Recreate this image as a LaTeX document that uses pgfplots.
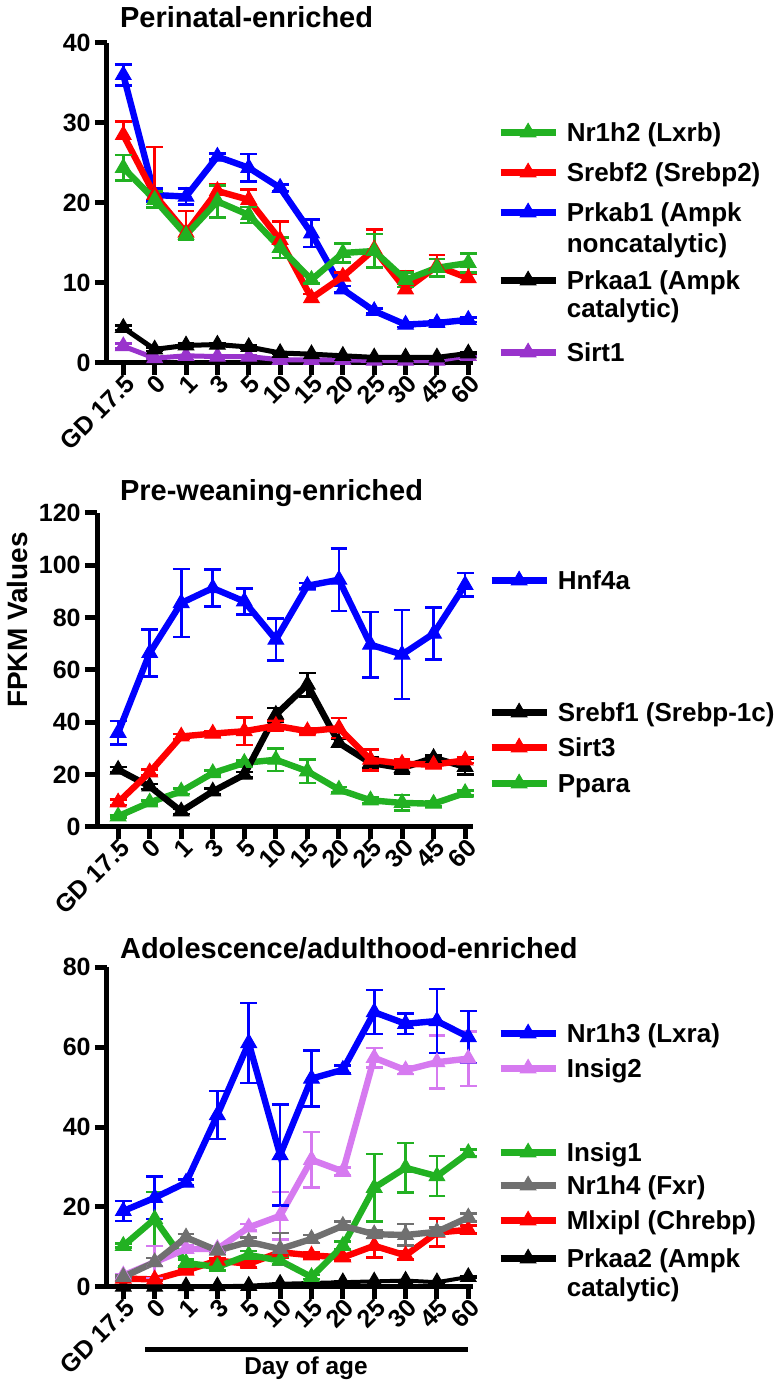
\documentclass[border=0pt]{standalone}
\usepackage{pgfplots}
\pgfplotsset{compat=1.18}
\usepackage{fontspec}
\setmainfont{Liberation Sans}
\definecolor{cblue}{RGB}{0,0,255}
\definecolor{cred}{RGB}{255,0,0}
\definecolor{cgreen}{RGB}{34,177,34}
\definecolor{cpurple}{RGB}{153,51,204}
\definecolor{cviolet}{RGB}{214,122,240}
\definecolor{cgray}{RGB}{112,112,112}
\newcommand{\ls}[1]{\rule{0pt}{10pt}\rule[-#1pt]{0pt}{#1pt}}
\pgfplotsset{
  panel/.style={
    scale only axis, anchor=south west,
    axis lines*=left,
    axis line style={line width=2.5pt},
    tick style={line width=2.5pt, black},
    tick align=outside, major tick length=6pt,
    xtick={0,...,11},
    xticklabels={GD 17.5,0,1,3,5,10,15,20,25,30,45,60},
    ymin=0,
    clip=false,
    /pgf/number format/assume math mode=true,
    tick label style={font=\bfseries\fontsize{12.5}{14}\selectfont},
    xticklabel style={rotate=45, anchor=east, inner sep=1pt, xshift=2pt, yshift=-4pt},
    yticklabel style={inner sep=2pt},
    legend style={draw=none, fill=none, inner sep=0pt, anchor=north west,
       font=\bfseries\fontsize{13}{15}\selectfont,
       nodes={inner sep=0pt, text depth=},
       cells={anchor=base west},
       column sep=4pt, row sep=0pt},
    legend image code/.code={\draw[mark repeat=2,mark phase=2,yshift=4.5pt] plot coordinates {(0pt,0pt)(13.75pt,0pt)(27.5pt,0pt)};},
  },
  leg/.style={line width=3.2pt, mark=triangle*, mark size=4.5pt, mark options={solid, line width=0.5pt, fill=#1, draw=#1}, color=#1},
  ser/.style={line width=3.2pt, mark=triangle*, mark size=4.5pt, mark options={solid, line width=0.5pt, fill=#1, draw=#1}, color=#1,
     error bars/y dir=both, error bars/y explicit,
     error bars/error mark=-,
     error bars/error bar style={line width=1.3pt, color=#1, solid},
     error bars/error mark options={rotate=90, mark size=4.2pt, line width=1.3pt, color=#1}},
}
\begin{document}
\begin{tikzpicture}
\useasboundingbox (0,0) rectangle (391.5pt,699pt);

% ---------------- Panel 1 ----------------
\begin{axis}[panel, at={(53.5pt,517.5pt)}, width=183pt, height=160pt,
  xmin=-0.52, xmax=11.15, ymax=40, ytick={0,10,20,30,40},
  legend style={at={(1.0656,0.7563)}}]
\addplot[forget plot, ser=cpurple, line width=2.5pt] coordinates {(0,2.1) +- (0,0.3) (1,0.6) +- (0,0.1) (2,0.9) +- (0,0.1) (3,0.8) +- (0,0.1) (4,0.8) +- (0,0.1) (5,0.4) +- (0,0.1) (6,0.4) +- (0,0.1) (7,0.4) +- (0,0.1) (8,0.3) +- (0,0.1) (9,0.3) +- (0,0.1) (10,0.3) +- (0,0.1) (11,0.9) +- (0,0.1)};
\addplot[forget plot, ser=black, line width=2.5pt] coordinates {(0,4.4) +- (0,0.3) (1,1.7) +- (0,0.2) (2,2.2) +- (0,0.2) (3,2.3) +- (0,0.2) (4,2.0) +- (0,0.2) (5,1.25) +- (0,0.1) (6,1.1) +- (0,0.1) (7,0.9) +- (0,0.1) (8,0.7) +- (0,0.1) (9,0.7) +- (0,0.1) (10,0.7) +- (0,0.1) (11,1.2) +- (0,0.1)};
\addplot[forget plot, ser=cblue] coordinates {(0,36.0) +- (0,1.3) (1,21.0) +- (0,0.8) (2,20.8) +- (0,1.0) (3,25.8) +- (0,0.4) (4,24.4) +- (0,1.7) (5,21.9) +- (0,0.4) (6,16.2) +- (0,1.7) (7,9.2) +- (0,0.4) (8,6.5) +- (0,0.3) (9,4.8) +- (0,0.3) (10,5.0) +- (0,0.3) (11,5.4) +- (0,0.3)};
\addplot[forget plot, ser=cred, error bars/y dir=plus] coordinates {(0,28.5) +- (0,1.7) (1,21.0) +- (0,6.0) (2,16.3) +- (0,2.7) (3,21.5) +- (0,0.8) (4,20.4) +- (0,1.3) (5,15.4) +- (0,2.3) (6,8.1) +- (0,0.5) (7,10.8) +- (0,0.5) (8,14.2) +- (0,2.5) (9,9.2) +- (0,2.3) (10,12.1) +- (0,1.4) (11,10.6) +- (0,0.5)};
\addplot[forget plot, ser=cgreen] coordinates {(0,24.4) +- (0,1.6) (1,20.4) +- (0,1.0) (2,16.0) +- (0,0.6) (3,20.2) +- (0,2.0) (4,18.5) +- (0,1.0) (5,14.4) +- (0,1.3) (6,10.4) +- (0,0.5) (7,13.75) +- (0,1.2) (8,14.0) +- (0,2.1) (9,10.4) +- (0,0.9) (10,11.9) +- (0,1.1) (11,12.5) +- (0,1.2)};
\addlegendimage{leg=cgreen}\addlegendentry{\ls{10}Nr1h2 (Lxrb)}
\addlegendimage{leg=cred}\addlegendentry{\ls{10}Srebf2 (Srebp2)}
\addlegendimage{leg=cblue}\addlegendentry{\ls{5.5}Prkab1 (Ampk}
\addlegendimage{empty legend}\addlegendentry{\ls{8.5}noncatalytic)}
\addlegendimage{leg=black}\addlegendentry{\ls{4}Prkaa1 (Ampk}
\addlegendimage{empty legend}\addlegendentry{\ls{12}catalytic)}
\addlegendimage{leg=cpurple}\addlegendentry{\ls{3}Sirt1}
\end{axis}

% ---------------- Panel 2 ----------------
\begin{axis}[panel, at={(48.5pt,285.5pt)}, width=188pt, height=157pt,
  xmin=-0.67, xmax=11.25, ymax=120, ytick={0,20,40,60,80,100,120},
  legend style={at={(1.040,0.8217)}}]
\addplot[forget plot, ser=cgreen] coordinates {(0,4.1) +- (0,0.5) (1,9.4) +- (0,0.8) (2,13.6) +- (0,1) (3,20.6) +- (0,1) (4,24.5) +- (0,1) (5,25.7) +- (0,4.3) (6,21.3) +- (0,4.5) (7,14.3) +- (0,1) (8,10.2) +- (0,1) (9,9.2) +- (0,3) (10,8.9) +- (0,1) (11,13.0) +- (0,1)};
\addplot[forget plot, ser=black] coordinates {(0,21.9) +- (0,1) (1,15.5) +- (0,1) (2,6.0) +- (0,1) (3,13.6) +- (0,1) (4,20.0) +- (0,1) (5,42.9) +- (0,2.5) (6,54.4) +- (0,4.5) (7,32.1) +- (0,1.5) (8,24.5) +- (0,2) (9,22.5) +- (0,2) (10,26.4) +- (0,1) (11,23.0) +- (0,3)};
\addplot[forget plot, ser=cred] coordinates {(0,9.4) +- (0,1) (1,20.9) +- (0,1) (2,34.6) +- (0,1) (3,35.7) +- (0,1) (4,36.6) +- (0,5.3) (5,38.7) +- (0,2) (6,36.6) +- (0,1) (7,37.8) +- (0,3.8) (8,25.7) +- (0,4) (9,24.2) +- (0,1.5) (10,23.8) +- (0,1) (11,25.5) +- (0,1)};
\addplot[forget plot, ser=cblue] coordinates {(0,36) +- (0,4.5) (1,66.5) +- (0,9) (2,85.6) +- (0,13) (3,91.3) +- (0,7) (4,86.2) +- (0,5) (5,71.6) +- (0,8) (6,92.2) +- (0,1) (7,94.5) +- (0,12) (8,69.7) +- (0,12.5) (9,65.9) +- (0,17) (10,73.9) +- (0,10) (11,92.5) +- (0,4.5)};
\addlegendimage{leg=cblue}\addlegendentry{\ls{56}Hnf4a}
\addlegendimage{leg=black}\addlegendentry{\ls{7.5}Srebf1 (Srebp-1c)}
\addlegendimage{leg=cred}\addlegendentry{\ls{8}Sirt3}
\addlegendimage{leg=cgreen}\addlegendentry{\ls{3}Ppara}
\end{axis}

% ---------------- Panel 3 ----------------
\begin{axis}[panel, at={(53.5pt,55.5pt)}, width=183pt, height=160pt,
  xmin=-0.52, xmax=11.15, ymax=80, ytick={0,20,40,60,80},
  legend style={at={(1.0656,0.828)}}]
\addplot[forget plot, ser=black, line width=2pt] coordinates {(0,0.1) +- (0,0.1) (1,0.1) +- (0,0.1) (2,0.2) +- (0,0.1) (3,0.2) +- (0,0.1) (4,0.3) +- (0,0.1) (5,0.8) +- (0,0.1) (6,1.0) +- (0,0.1) (7,1.2) +- (0,0.1) (8,1.4) +- (0,0.1) (9,1.6) +- (0,0.1) (10,1.2) +- (0,0.1) (11,2.5) +- (0,0.2)};
\addplot[forget plot, ser=cred] coordinates {(0,2.1) +- (0,0.3) (1,1.9) +- (0,0.3) (2,4.1) +- (0,0.5) (3,6.6) +- (0,0.5) (4,5.8) +- (0,0.8) (5,8.7) +- (0,1.5) (6,7.9) +- (0,0.8) (7,7.4) +- (0,0.8) (8,10.3) +- (0,3) (9,7.9) +- (0,1) (10,13.6) +- (0,3.5) (11,14.3) +- (0,1)};
\addplot[forget plot, ser=cgreen] coordinates {(0,10.3) +- (0,0.5) (1,17.0) +- (0,6.8) (2,6.0) +- (0,0.8) (3,5.0) +- (0,0.8) (4,8.0) +- (0,1) (5,6.6) +- (0,1) (6,2.5) +- (0,0.5) (7,10.3) +- (0,1) (8,24.8) +- (0,8.4) (9,29.8) +- (0,6.2) (10,27.7) +- (0,5) (11,33.5) +- (0,0.8)};
\addplot[forget plot, ser=cviolet] coordinates {(0,2.9) +- (0,0.3) (1,6.2) +- (0,4) (2,9.5) +- (0,1) (3,9.5) +- (0,0.5) (4,14.9) +- (0,0.8) (5,17.8) +- (0,6) (6,31.8) +- (0,7) (7,28.9) +- (0,1) (8,57.3) +- (0,2.5) (9,54.2) +- (0,1) (10,56.2) +- (0,6.6) (11,57.1) +- (0,6.8)};
\addplot[forget plot, ser=cgray] coordinates {(0,2.5) +- (0,0.3) (1,6.2) +- (0,1) (2,12.4) +- (0,0.8) (3,9.1) +- (0,0.8) (4,11.3) +- (0,1) (5,9.5) +- (0,4) (6,12.0) +- (0,1) (7,15.3) +- (0,1) (8,13.2) +- (0,1) (9,13.0) +- (0,2.7) (10,13.8) +- (0,1) (11,17.4) +- (0,1)};
\addplot[forget plot, ser=cblue] coordinates {(0,19) +- (0,2.5) (1,22.3) +- (0,5.3) (2,26.1) +- (0,0.8) (3,43.0) +- (0,6) (4,61) +- (0,10) (5,33) +- (0,12.6) (6,52.1) +- (0,7) (7,54.3) +- (0,1) (8,68.7) +- (0,5.5) (9,65.8) +- (0,2.5) (10,66.5) +- (0,8) (11,62.5) +- (0,6.5)};
\addlegendimage{leg=cblue}\addlegendentry{\ls{7.5}Nr1h3 (Lxra)}
\addlegendimage{leg=cviolet}\addlegendentry{\ls{32}Insig2}
\addlegendimage{leg=cgreen}\addlegendentry{\ls{6.5}Insig1}
\addlegendimage{leg=cgray}\addlegendentry{\ls{7.5}Nr1h4 (Fxr)}
\addlegendimage{leg=cred}\addlegendentry{\ls{9}Mlxipl (Chrebp)}
\addlegendimage{leg=black}\addlegendentry{\ls{4.5}Prkaa2 (Ampk}
\addlegendimage{empty legend}\addlegendentry{\ls{3}catalytic)}
\end{axis}

% titles and labels
\node[anchor=west, font=\bfseries\fontsize{14.5}{17}\selectfont] at (56.5pt,690.5pt) {Perinatal-enriched};
\node[anchor=west, font=\bfseries\fontsize{14.5}{17}\selectfont] at (56.5pt,452.5pt) {Pre-weaning-enriched};
\node[anchor=west, font=\bfseries\fontsize{14.5}{17}\selectfont] at (56.5pt,225pt) {Adolescence/adulthood-enriched};
\node[rotate=90, font=\bfseries\fontsize{14}{16}\selectfont] at (8.75pt,389pt) {FPKM Values};
\draw[line width=2.5pt] (72.5pt,24pt) -- (234pt,24pt);
\node[font=\bfseries\fontsize{12.2}{14}\selectfont] at (153pt,15pt) {Day of age};
\end{tikzpicture}
\end{document}
